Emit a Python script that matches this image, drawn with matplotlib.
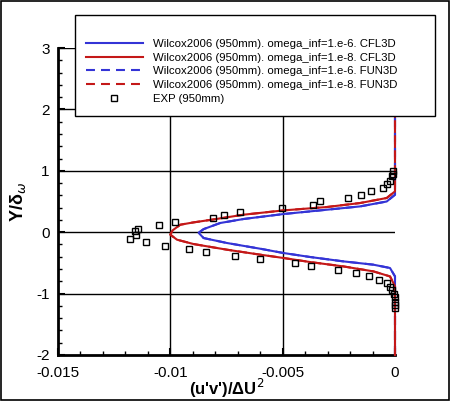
import matplotlib
matplotlib.use("Agg")
import matplotlib.pyplot as plt
from matplotlib.patches import Rectangle
from matplotlib.ticker import MultipleLocator

plt.rcParams['font.family'] = ['Liberation Sans', 'DejaVu Sans']

# Wilcox2006, omega_inf=1.e-6 (CFL3D / FUN3D)
x_w6 = [0.0, 0.0, -0.000222, -0.000963, -0.0023, -0.003778, -0.004964, -0.006, -0.00748,
        -0.00852, -0.008742, -0.00852, -0.007778, -0.00674, -0.004964, -0.003035,
        -0.001556, -0.000369, 0.0, 0.0]
y_w6 = [-2.0, -0.72, -0.583, -0.529, -0.475, -0.404, -0.339, -0.269, -0.176,
        -0.095, -0.01, 0.05, 0.15, 0.215, 0.296, 0.366,
        0.42, 0.50, 0.61, 3.0]

# Wilcox2006, omega_inf=1.e-8 (CFL3D / FUN3D)
x_w8 = [0.0, 0.0, -0.000222, -0.000963, -0.0023, -0.003778, -0.004964, -0.006, -0.00748,
        -0.008964, -0.009704, -0.0100, -0.0099, -0.009556, -0.008964, -0.00822,
        -0.00674, -0.004964, -0.003035, -0.001556, -0.000369, 0.0, 0.0]
y_w8 = [-2.0, -0.88, -0.72, -0.638, -0.557, -0.486, -0.42, -0.366, -0.285,
        -0.193, -0.122, -0.04, 0.03, 0.122, 0.16, 0.20,
        0.285, 0.355, 0.41, 0.475, 0.557, 0.665, 3.0]

# Experiment (950mm)
x_exp = [-0.011778, -0.011556, -0.011452, -0.011511, -0.011098, -0.01052, -0.010253,
         -0.009809, -0.009187, -0.008431, -0.00812, -0.007631, -0.00692, -0.005009,
         -0.003631, -0.00332, -0.002075, -0.0015, -0.001067, -0.000519, -0.000369,
         -0.000222, -0.00012, -0.00007, -0.0001,
         -0.007142, -0.005987, -0.004431, -0.00372, -0.00252, -0.00172, -0.001142,
         -0.000698, -0.000369, -0.000222, -0.00012, -0.00003, -0.00002, -0.00001,
         -0.00001, -0.00001]
y_exp = [-0.11, 0.013, 0.052, -0.052, -0.155, 0.122, -0.225,
         0.166, -0.274, -0.323, 0.231, 0.28, 0.329, 0.394,
         0.443, 0.508, 0.562, 0.606, 0.671, 0.725, 0.79,
         0.827, 0.909, 0.953, 0.99,
         -0.388, -0.432, -0.502, -0.551, -0.616, -0.665, -0.714,
         -0.779, -0.833, -0.888, -0.942, -1.0, -1.06, -1.13,
         -1.19, -1.23]

labels = ["Wilcox2006 (950mm). omega_inf=1.e-6. CFL3D",
          "Wilcox2006 (950mm). omega_inf=1.e-8. CFL3D",
          "Wilcox2006 (950mm). omega_inf=1.e-6. FUN3D",
          "Wilcox2006 (950mm). omega_inf=1.e-8. FUN3D",
          "EXP (950mm)"]

BLUE = "#3434d6"
RED = "#c41818"

fig = plt.figure(figsize=(4.5, 4.01), dpi=100)
ax = fig.add_axes([58/450, 1-355/401, (395-58)/450, (355-48)/401])

l1, = ax.plot(x_w6, y_w6, color=BLUE, lw=1.5, clip_on=False, zorder=3)
l2, = ax.plot(x_w8, y_w8, color=RED, lw=1.5, clip_on=False, zorder=3)
l3, = ax.plot(x_w6, y_w6, color=BLUE, lw=1.5, dashes=(4.3, 2.9), clip_on=False, zorder=3)
l4, = ax.plot(x_w8, y_w8, color=RED, lw=1.5, dashes=(4.3, 2.9), clip_on=False, zorder=3)
l5, = ax.plot(x_exp, y_exp, ls='none', marker='s', ms=4.5, mfc='none', mec='black',
              mew=1.0, clip_on=False, zorder=4)

ax.set_xlim(-0.015, 0)
ax.set_ylim(-2, 3)
ax.xaxis.set_major_locator(MultipleLocator(0.005))
ax.xaxis.set_minor_locator(MultipleLocator(0.001))
ax.yaxis.set_major_locator(MultipleLocator(1))
ax.yaxis.set_minor_locator(MultipleLocator(0.2))
ax.set_xticks([-0.015, -0.01, -0.005, 0])
ax.set_xticklabels(["-0.015", "-0.01", "-0.005", "0"])
ax.set_yticks([-2, -1, 0, 1, 2, 3])
ax.set_yticklabels(["-2", "-1", "0", "1", "2", "3"])

for xv in [-0.01, -0.005]:
    ax.axvline(xv, color='black', lw=1.0, zorder=1)
for yv in [-1, 0, 1, 2, 3]:
    ax.axhline(yv, color='black', lw=1.0, zorder=1)

for s in ['top', 'right']:
    ax.spines[s].set_visible(False)
for s in ['left', 'bottom']:
    ax.spines[s].set_linewidth(2.0)
ax.tick_params(which='major', direction='in', length=5, width=1.5, labelsize=11)
ax.tick_params(which='minor', direction='in', length=3, width=1.0)
ax.tick_params(axis='x', pad=8)
ax.tick_params(axis='y', pad=6)

ax.set_xlabel("(u'v')/\u0394U$^2$", fontsize=12, fontweight='bold', labelpad=-2)
ax.set_ylabel("Y/\u03b4$_\u03c9$", fontsize=13, fontweight='bold', labelpad=6)

# legend box
fig.patches.append(Rectangle((75/450, 1-116/401), 360/450, 101/401, transform=fig.transFigure,
                             fill=True, facecolor='white', edgecolor='black', lw=1.0, zorder=5))
leg = fig.legend([l1, l2, l3, l4, l5], labels, loc='upper left',
                 bbox_to_anchor=(86/450, 1-39/401), frameon=False, fontsize=8.2,
                 handlelength=5.0, handletextpad=0.9, labelspacing=0.32, borderpad=0,
                 borderaxespad=0)
leg.set_zorder(6)

fig.patches.append(Rectangle((0.003, 0.003), 0.994, 0.994, transform=fig.transFigure,
                             fill=False, edgecolor='black', lw=1.2))

fig.savefig("out.png", dpi=100)
